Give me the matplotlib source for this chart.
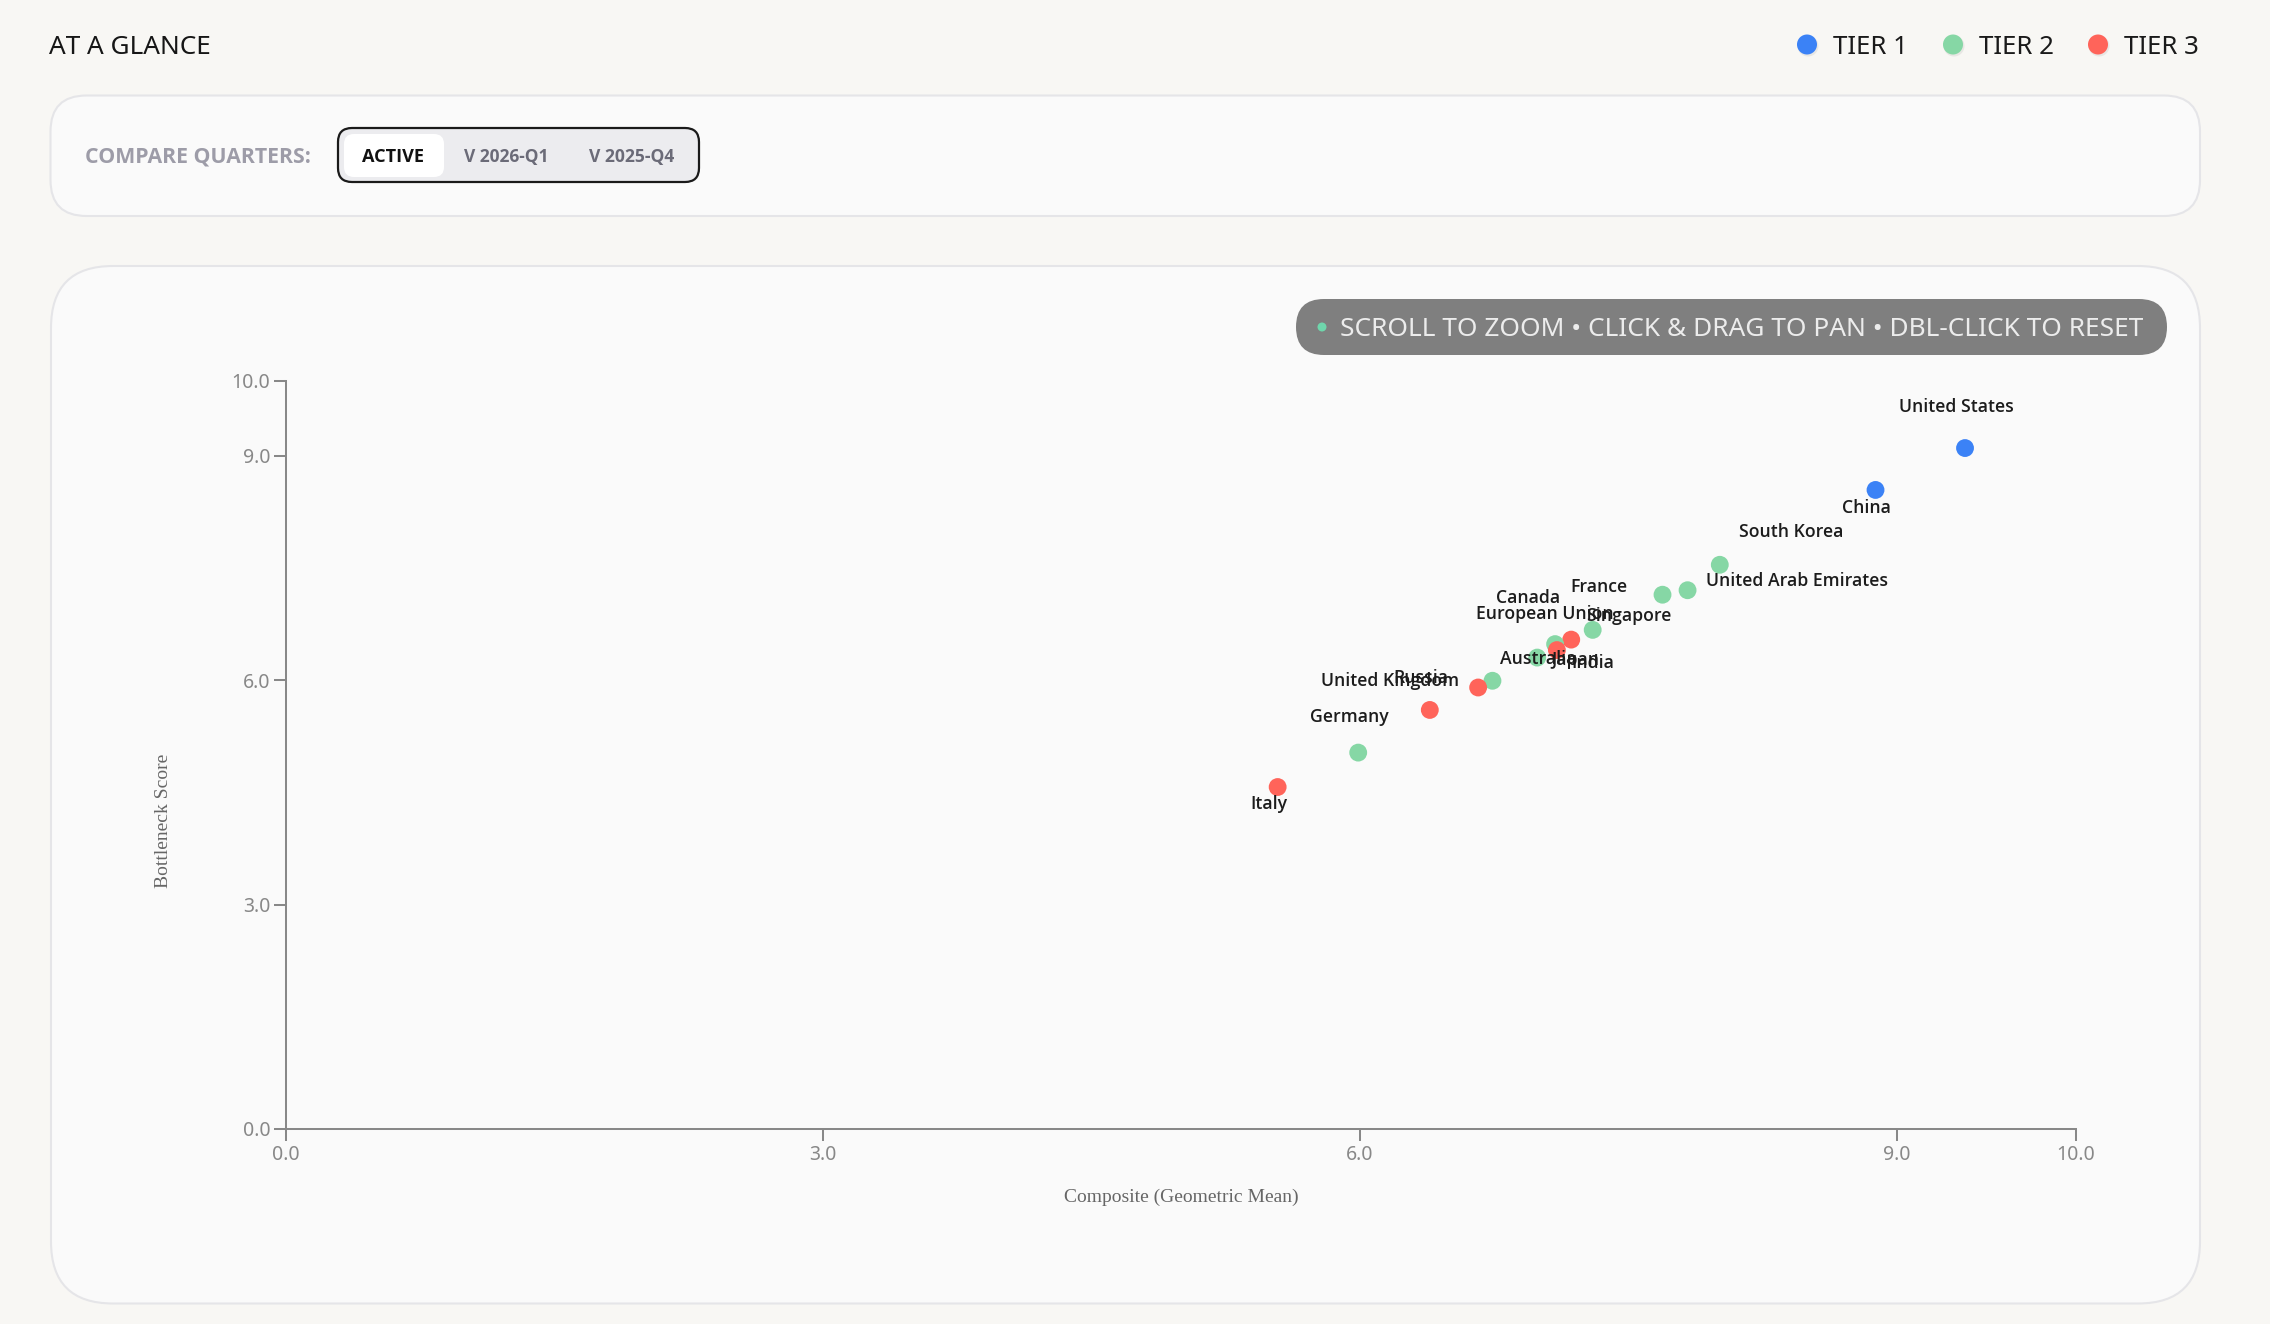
import matplotlib
matplotlib.use("Agg")
import matplotlib.pyplot as plt
from matplotlib.patches import FancyBboxPatch, Circle
from matplotlib import font_manager as fm

# ---------------- data ----------------
names = ["United States", "China", "South Korea", "United Arab Emirates", "France",
         "Singapore", "Japan", "European Union", "India", "Australia", "Canada",
         "United Kingdom", "Russia", "Germany", "Italy"]
composite = [9.38, 8.88, 8.01, 7.83, 7.69, 7.30, 7.18, 7.09, 7.10, 6.99, 6.74,
             6.66, 6.39, 5.99, 5.54]
bottleneck = [9.10, 8.54, 7.54, 7.20, 7.14, 6.67, 6.54, 6.48, 6.40, 6.30, 5.99,
              5.90, 5.60, 5.03, 4.57]
tiers = [1, 1, 2, 2, 2, 2, 3, 2, 3, 2, 2, 3, 3, 2, 3]
tier_names = ["TIER 1", "TIER 2", "TIER 3"]
ticks = [0.0, 3.0, 6.0, 9.0, 10.0]
quarters = ["ACTIVE", "V 2026-Q1", "V 2025-Q4"]
x_label = "Composite (Geometric Mean)"
y_label = "Bottleneck Score"
title = "AT A GLANCE"
hint = "SCROLL TO ZOOM \u2022 CLICK & DRAG TO PAN \u2022 DBL-CLICK TO RESET"

# ---------------- style / layout ----------------
tier_colors = {1: "#3b82f6", 2: "#86d7a5", 3: "#ff645a"}
label_offsets = {
    "United States": (-9, -44), "China": (-9, 15), "South Korea": (71, -36),
    "United Arab Emirates": (109, -12), "France": (-64, -11), "Singapore": (36, -17),
    "Japan": (4, 17), "European Union": (-10, -33), "India": (36, 10),
    "Australia": (1, -2), "Canada": (36, -86), "United Kingdom": (-88, -10),
    "Russia": (-9, -35), "Germany": (-9, -39), "Italy": (-9, 14),
}

W, H = 2270, 1324
SANS = ["Noto Sans", "DejaVu Sans"]
SERIF = ["Liberation Serif", "DejaVu Serif"]
plt.rcParams["font.family"] = SANS


def bold_family():
    for fam in ["Open Sans", "Noto Sans", "Roboto", "Lato", "DejaVu Sans"]:
        for f in fm.fontManager.ttflist:
            if f.name == fam and (f.weight in (600, 700, "semibold", "bold", "demibold")):
                return fam
    return "DejaVu Sans"


BOLD = [bold_family(), "DejaVu Sans"]

fig = plt.figure(figsize=(W / 100, H / 100), dpi=100, facecolor="#f8f7f4")
bg = fig.add_axes([0, 0, 1, 1], zorder=0)
bg.set_xlim(0, W)
bg.set_ylim(H, 0)
bg.axis("off")
renderer = fig.canvas.get_renderer()


def rbox(x0, y0, x1, y1, r, fc, ec="none", lw=0, z=1):
    p = FancyBboxPatch((x0, y0), x1 - x0, y1 - y0,
                       boxstyle=f"round,pad=0,rounding_size={r}",
                       fc=fc, ec=ec, lw=lw, zorder=z)
    bg.add_patch(p)


def fit(t, width):
    ext = t.get_window_extent(renderer)
    t.set_fontsize(t.get_fontsize() * width / ext.width)


# header
t = bg.text(49, 47, title, fontsize=18, color="#161616", va="center", ha="left")
fit(t, 162)

# legend
leg_dot_x = [1807, 1953, 2098]
for i, tn in enumerate(tier_names):
    bg.add_patch(Circle((leg_dot_x[i] + 1, 46), 10.5, fc="#00000010", ec="none", zorder=2))
    bg.add_patch(Circle((leg_dot_x[i], 44.5), 10, fc=tier_colors[i + 1], ec="none", zorder=3))
    t = bg.text(leg_dot_x[i] + 26, 47, tn, fontsize=18, color="#1a1a1a",
                va="center", ha="left")
    fit(t, 75)

# top panel
rbox(50.5, 95.5, 2200, 216, 36, "#fafafa", "#e5e5e8", 1.5)
t = bg.text(85, 157, "COMPARE QUARTERS:", fontsize=14, fontweight="bold",
            family=BOLD, color="#9d9ca8", va="center", ha="left")
fit(t, 227)
rbox(338, 128, 699, 182, 14, "#ececef", "#1a1a1a", 1.6, z=2)
rbox(344, 134, 444, 177, 10, "#ffffff", z=3)
q_cx = [393, 506, 632]
q_w = [62, 85, 85]
for i, q in enumerate(quarters):
    t = bg.text(q_cx[i], 157, q, fontsize=13, fontweight="bold", family=BOLD,
                color="#111111" if i == 0 else "#6b6b78",
                va="center", ha="center", zorder=4)
    fit(t, q_w[i])

# main panel
rbox(51, 266, 2200, 1303.5, 62, "#fafafa", "#e5e5e8", 1.5)

# hint pill
rbox(1296, 299, 2167, 355, 28, "#7f7f7f", z=2)
bg.add_patch(Circle((1322, 327), 4.5, fc="#6fd6ac", ec="none", zorder=3))
t = bg.text(1340, 329, hint, fontsize=16, color="#ececec", va="center",
            ha="left", zorder=3)
fit(t, 803)

# axis titles
bg.text(163, 821, y_label, rotation=90, fontsize=14, color="#666666",
        family=SERIF, va="center", ha="center")
bg.text(1181, 1197, x_label, fontsize=14, color="#666666",
        family=SERIF, va="center", ha="center")

# ---------------- scatter axes ----------------
x0, x1, y0, y1 = 286, 2076, 380.7, 1129
ax = fig.add_axes([x0 / W, 1 - y1 / H, (x1 - x0) / W, (y1 - y0) / H], zorder=5)
ax.set_facecolor("none")
ax.set_xlim(0, 10)
ax.set_ylim(0, 10)
for s in ["top", "right"]:
    ax.spines[s].set_visible(False)
for s in ["left", "bottom"]:
    ax.spines[s].set_color("#888888")
    ax.spines[s].set_linewidth(1.45)
ax.set_xticks(ticks)
ax.set_yticks(ticks)
ax.set_xticklabels([f"{v:.1f}" for v in ticks])
ax.set_yticklabels([f"{v:.1f}" for v in ticks])
ax.tick_params(length=8.4, width=1.45, color="#888888", labelcolor="#888888",
               labelsize=14, pad=3)

cols = [tier_colors[t] for t in tiers]
ax.scatter(composite, bottleneck, s=165, c=cols, edgecolors="none", zorder=3,
           clip_on=False)
for n, xv, yv in zip(names, composite, bottleneck):
    dx, dy = label_offsets[n]
    ax.annotate(n, (xv, yv), xytext=(dx, -dy - 3), textcoords="offset pixels",
                ha="center", va="center", fontsize=12.7, fontweight="semibold",
                family=BOLD, color="#1c1c1c", zorder=4, annotation_clip=False)

fig.savefig("out.png", dpi=100, facecolor=fig.get_facecolor())
